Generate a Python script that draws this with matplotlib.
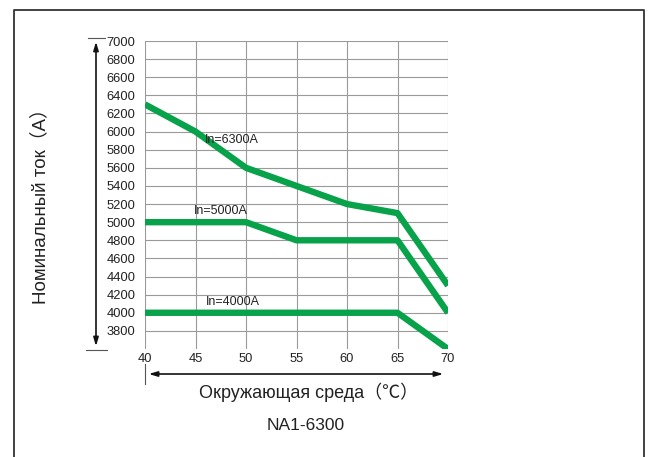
import matplotlib
matplotlib.use("Agg")
import matplotlib.pyplot as plt
from matplotlib.lines import Line2D

plt.rcParams['font.family'] = ['Liberation Sans', 'Noto Sans CJK SC', 'DejaVu Sans']

temps = [40, 45, 50, 55, 60, 65, 70]
in6300 = [6300, 6000, 5600, 5400, 5200, 5100, 4300]
in5000 = [5000, 5000, 5000, 4800, 4800, 4800, 4000]
in4000 = [4000, 4000, 4000, 4000, 4000, 4000, 3600]
series_labels = ["In=6300A", "In=5000A", "In=4000A"]
label_pos = [(45.9, 5910), (44.8, 5120), (46.0, 4120)]
yticks = list(range(3800, 7001, 200))

W, H = 650, 457
fig = plt.figure(figsize=(6.5, 4.57), dpi=100)

def fx(px):
    return px / W

def fy(py):
    return 1 - py / H

ax = fig.add_axes([fx(145), fy(349), fx(448) - fx(145), fy(41) - fy(349)])
ax.set_xlim(40, 70)
ax.set_ylim(3600, 7000)

grey = '#9a9a9a'
for v in yticks:
    ax.axhline(v, color=grey, lw=0.8, zorder=1)
for t in temps:
    ax.axvline(t, color=grey, lw=0.8, zorder=1)

green = '#08a24a'
for ys in (in6300, in5000, in4000):
    ax.plot(temps, ys, color=green, lw=4.6, solid_capstyle='butt', zorder=3)

for lab, (x, y) in zip(series_labels, label_pos):
    ax.text(x, y, lab, fontsize=9, va='center', ha='left', zorder=4, color='#222222')

for s in ax.spines.values():
    s.set_visible(False)
ax.set_xticks(temps)
ax.set_yticks(yticks)
ax.tick_params(length=0, labelsize=9.3, colors='#222222')
ax.tick_params(axis='y', pad=7)
ax.tick_params(axis='x', pad=3)

# vertical double arrow
ax_x = fx(96)
fig.add_artist(Line2D([fx(88), fx(105)], [fy(38), fy(38)], color='#555555', lw=0.8))
fig.add_artist(Line2D([fx(86), fx(107)], [fy(350), fy(350)], color='#555555', lw=0.8))
fig.patches.append(matplotlib.patches.FancyArrowPatch(
    (ax_x, fy(349)), (ax_x, fy(39)), transform=fig.transFigure,
    arrowstyle='<|-|>,head_length=5,head_width=1.5', color='#111111', lw=1.2))

# horizontal double arrow
fig.add_artist(Line2D([fx(145), fx(145)], [fy(364), fy(384)], color='#555555', lw=0.8))
fig.patches.append(matplotlib.patches.FancyArrowPatch(
    (fx(146), fy(374)), (fx(446), fy(374)), transform=fig.transFigure,
    arrowstyle='<|-|>,head_length=5,head_width=1.5', color='#111111', lw=1.2))

fig.text(fx(309), fy(392), "Окружающая среда（℃）", fontsize=13,
         ha='center', va='center', color='#222222')
fig.text(fx(306), fy(425), "NA1-6300", fontsize=12.5,
         ha='center', va='center', color='#222222')
fig.text(fx(40), fy(202), "Номинальный ток（A）", fontsize=13.5,
         ha='center', va='center', rotation=90, color='#222222')

# frame
fig.add_artist(Line2D([fx(14), fx(14), fx(644), fx(644)],
                      [0, fy(10), fy(10), 0], color='#333333', lw=1.3))

fig.savefig("out.png", dpi=100)
